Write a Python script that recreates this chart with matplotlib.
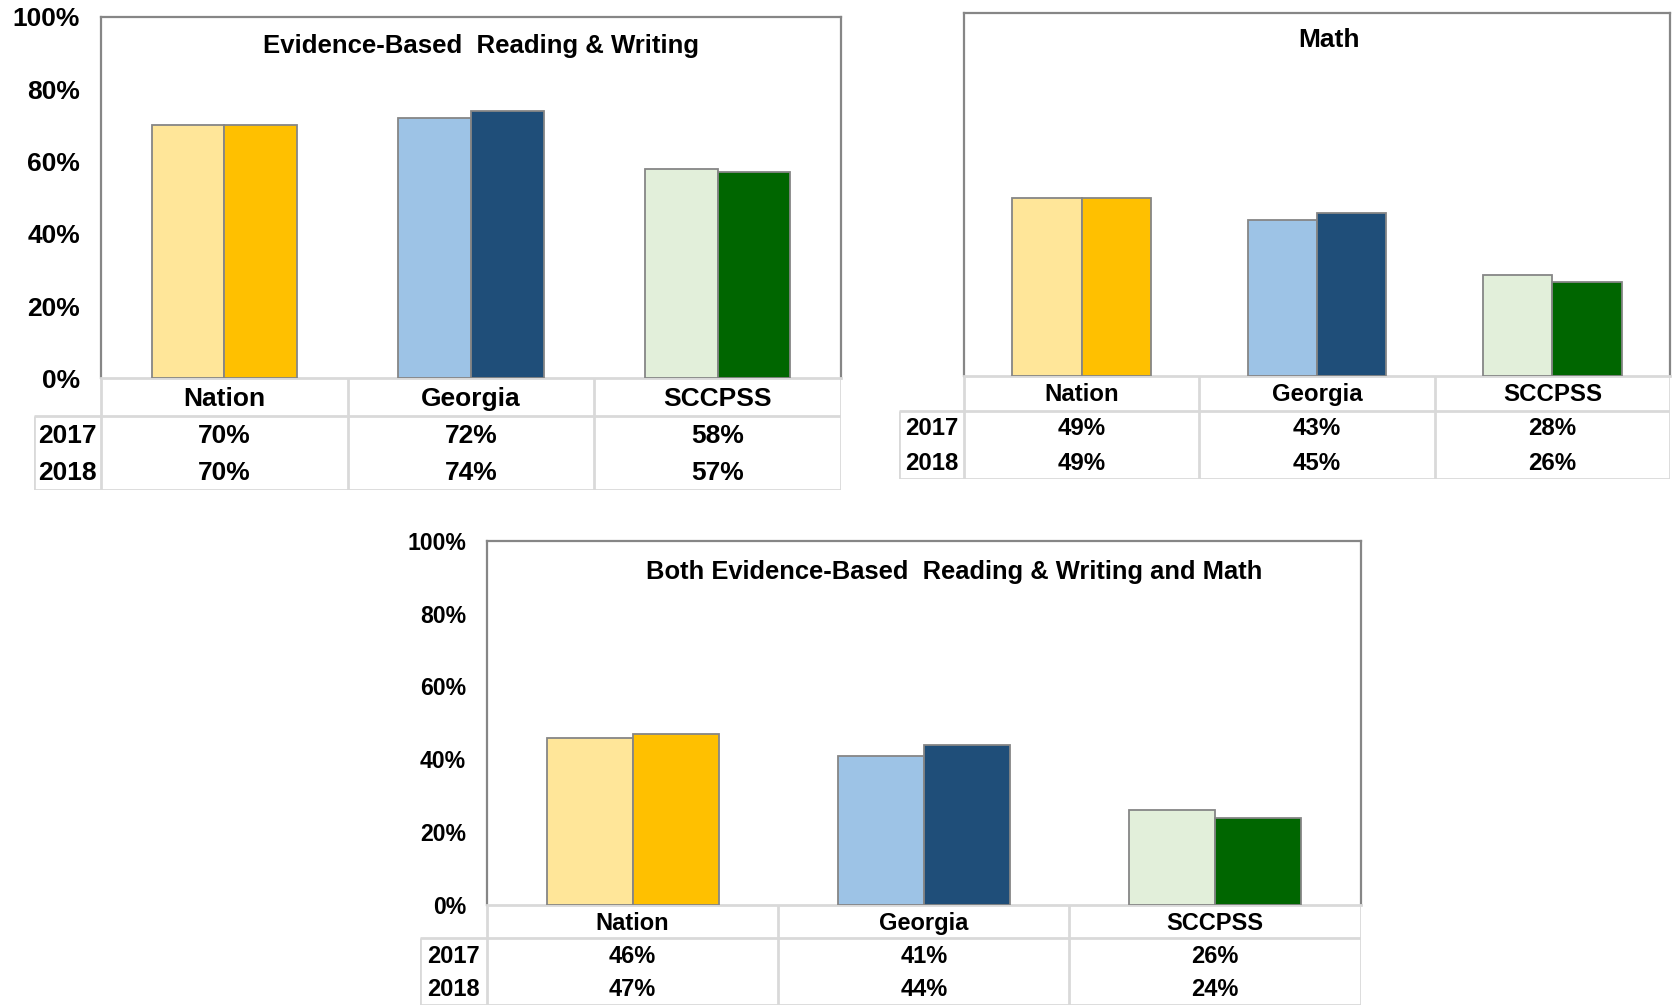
import numpy as np
import matplotlib.pyplot as plt

plt.rcParams['font.family'] = ['Liberation Sans', 'DejaVu Sans']
plt.rcParams['font.weight'] = 'bold'

# data
categories = ['Nation', 'Georgia', 'SCCPSS']
years = ['2017', '2018']
titles = ['Evidence-Based  Reading & Writing', 'Math',
          'Both Evidence-Based  Reading & Writing and Math']
ebrw_2017 = [70, 72, 58]
ebrw_2018 = [70, 74, 57]
math_2017 = [49, 43, 28]
math_2018 = [49, 45, 26]
both_2017 = [46, 41, 26]
both_2018 = [47, 44, 24]

colors_2017 = ['#FFE699', '#9DC3E6', '#E2EFDA']
colors_2018 = ['#FFC000', '#1F4E79', '#006600']

W, H = 1672, 1005
fig = plt.figure(figsize=(W / 100, H / 100), dpi=100)

GRID = '#D9D9D9'
FRAME = '#868686'


def panel(px, title, v17, v18, show_y, title_x, title_dy, fs, title_fs, tick_fs):
    # px = (year_left, plot_left, plot_right, plot_top, plot_bottom, table_bottom)
    yl, l, r, t, b, tb = px
    ax = fig.add_axes([l / W, 1 - b / H, (r - l) / W, (b - t) / H])
    x = np.arange(len(categories))
    w = 0.295
    ax.bar(x - w / 2, v17, w, color=colors_2017, edgecolor=FRAME, linewidth=1.3, zorder=3)
    ax.bar(x + w / 2, v18, w, color=colors_2018, edgecolor=FRAME, linewidth=1.3, zorder=3)
    ax.set_xlim(-0.5, 2.5)
    ax.set_ylim(0, 100)
    ax.set_xticks([])
    for s in ['left', 'top', 'right']:
        ax.spines[s].set_color(FRAME)
        ax.spines[s].set_linewidth(1.6)
    ax.spines['bottom'].set_color(GRID)
    ax.spines['bottom'].set_linewidth(2)
    if show_y:
        ax.set_yticks(np.arange(0, 101, 20))
        ax.set_yticklabels(['%d%%' % v for v in range(0, 101, 20)], fontsize=tick_fs, fontweight='bold')
        ax.tick_params(axis='y', length=0, pad=15)
    else:
        ax.set_yticks([])
    ax.text(title_x, 1 - title_dy / (b - t), title, transform=ax.transAxes,
            ha='center', va='center', fontsize=title_fs, fontweight='bold')

    # data table below
    tax = fig.add_axes([yl / W, 1 - tb / H, (r - yl) / W, (tb - b) / H])
    yw = (l - yl) / (r - l) * 3
    tax.set_xlim(-0.5 - yw, 2.5)
    tax.set_ylim(3, 0)
    tax.axis('off')
    lk = dict(color=GRID, lw=2, solid_capstyle='butt')
    tax.plot([-0.5 - yw, 2.5], [1, 1], **lk)
    tax.plot([-0.5 - yw, 2.5], [3, 3], **lk)
    tax.plot([-0.5 - yw, -0.5 - yw], [1, 3], **lk)
    for xv in [-0.5, 0.5, 1.5, 2.5]:
        tax.plot([xv, xv], [0, 3], **lk)
    for i, c in enumerate(categories):
        tax.text(i, 0.54, c, ha='center', va='center', fontsize=fs, fontweight='bold')
        tax.text(i, 1.54, '%d%%' % v17[i], ha='center', va='center', fontsize=fs, fontweight='bold')
        tax.text(i, 2.54, '%d%%' % v18[i], ha='center', va='center', fontsize=fs, fontweight='bold')
    for j, yr in enumerate(years):
        tax.text(-0.5 - yw / 2, 1.54 + j, yr, ha='center', va='center', fontsize=fs, fontweight='bold')


panel((34, 101, 841, 17, 378.5, 490.5), titles[0], ebrw_2017, ebrw_2018, True, 0.514, 28.8, 19, 18.5, 19)
panel((899, 964, 1670, 13, 376.4, 478.8), titles[1], math_2017, math_2018, False, 0.517, 26.7, 17.3, 19, 17)
panel((420, 487, 1360.6, 540.6, 905.3, 1004.5), titles[2], both_2017, both_2018, True, 0.535, 31, 17, 18.4, 16.6)

fig.savefig('out.png', dpi=100)
